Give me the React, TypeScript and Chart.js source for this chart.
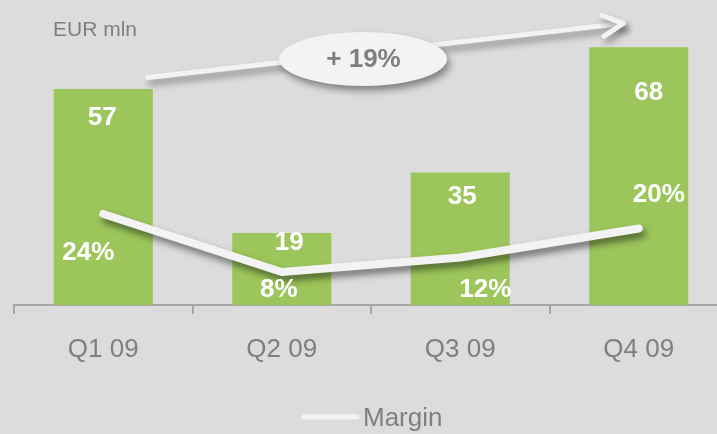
import { useEffect, useRef } from "react";
import { Chart, registerables } from "chart.js";

Chart.register(...registerables);

const categories = ["Q1 09", "Q2 09", "Q3 09", "Q4 09"];
const revenue = [57, 19, 35, 68];
const margin = [24, 8, 12, 20];
const marginLabels = ["24%", "8%", "12%", "20%"];
const growthLabel = "+ 19%";
const unitLabel = "EUR mln";
const legendLabel = "Margin";

// label placement offsets (px) relative to their bar top / line point
const valueLabelOffsets = [[-1, 29], [7.5, 9.5], [2, 24], [10, 45.5]];
const marginLabelOffsets = [[-15, 38.5], [-3, 18], [25, 32], [20, -33.5]];

const FONT = '"Liberation Sans", Arial, sans-serif';
const BG = "#dcdcdc";
const GREEN = "#9cc65b";
const WHITE = "#f3f3f3";
const GRAY = "#7f7f7f";
const AXIS = "#a6a6a6";

function setShadow(ctx: CanvasRenderingContext2D) {
  ctx.shadowColor = "rgba(0,0,0,0.5)";
  ctx.shadowBlur = 7;
  ctx.shadowOffsetX = 3;
  ctx.shadowOffsetY = 5;
}

const shadowPlugin = {
  id: "lineShadow",
  beforeDatasetDraw(chart: any, args: any) {
    if (args.index === 0) {
      chart.ctx.save();
      setShadow(chart.ctx);
    }
  },
  afterDatasetDraw(chart: any, args: any) {
    if (args.index === 0) chart.ctx.restore();
  },
};

const labelPlugin = {
  id: "valueLabels",
  afterDatasetsDraw(chart: any) {
    const ctx: CanvasRenderingContext2D = chart.ctx;
    const lineMeta = chart.getDatasetMeta(0);
    const barMeta = chart.getDatasetMeta(1);
    ctx.save();
    ctx.fillStyle = "#ffffff";
    ctx.font = `bold 26px ${FONT}`;
    ctx.textAlign = "center";
    ctx.textBaseline = "middle";
    barMeta.data.forEach((el: any, i: number) => {
      const [dx, dy] = valueLabelOffsets[i];
      ctx.fillText(String(revenue[i]), el.x + dx, el.y + dy);
    });
    lineMeta.data.forEach((el: any, i: number) => {
      const [dx, dy] = marginLabelOffsets[i];
      ctx.fillText(marginLabels[i], el.x + dx, el.y + dy);
    });
    ctx.restore();
  },
};

const annotationPlugin = {
  id: "annotations",
  afterDraw(chart: any) {
    const ctx: CanvasRenderingContext2D = chart.ctx;
    const area = chart.chartArea;
    const barMeta = chart.getDatasetMeta(1);
    const first = barMeta.data[0];
    const last = barMeta.data[barMeta.data.length - 1];
    const cx = (area.left + area.right) / 2;

    // growth arrow
    const x0 = first.x + 44.5;
    const y0 = first.y - 11.5;
    const x1 = last.x - 15.5;
    const y1 = last.y - 24;
    ctx.save();
    setShadow(ctx);
    ctx.shadowColor = "rgba(0,0,0,0.4)";
    ctx.strokeStyle = WHITE;
    ctx.lineWidth = 5;
    ctx.lineCap = "round";
    ctx.lineJoin = "round";
    ctx.beginPath();
    ctx.moveTo(x0, y0);
    ctx.lineTo(x1, y1);
    ctx.stroke();
    const ang = Math.atan2(y0 - y1, x0 - x1);
    const len = 23;
    const spread = (27 * Math.PI) / 180;
    ctx.beginPath();
    ctx.moveTo(x1 + Math.cos(ang + spread) * len, y1 + Math.sin(ang + spread) * len);
    ctx.lineTo(x1, y1);
    ctx.lineTo(x1 + Math.cos(ang - spread) * len, y1 + Math.sin(ang - spread) * len);
    ctx.stroke();

    // ellipse with growth label
    const ex = cx - 8;
    const ey = y0 + ((y1 - y0) * (ex - x0)) / (x1 - x0) + 6;
    ctx.fillStyle = WHITE;
    ctx.beginPath();
    ctx.ellipse(ex, ey, 84, 27, 0, 0, Math.PI * 2);
    ctx.fill();
    ctx.restore();

    ctx.save();
    ctx.fillStyle = GRAY;
    ctx.font = `bold 26px ${FONT}`;
    ctx.textAlign = "center";
    ctx.textBaseline = "middle";
    ctx.fillText(growthLabel, ex + 0.5, ey + 1);

    // unit label
    ctx.font = `21px ${FONT}`;
    ctx.textAlign = "left";
    ctx.fillText(unitLabel, area.left + 39, area.top + 30.5);

    // legend
    ctx.strokeStyle = WHITE;
    ctx.lineWidth = 5;
    ctx.lineCap = "round";
    ctx.beginPath();
    ctx.moveTo(cx - 67, 417);
    ctx.lineTo(cx - 14, 417);
    ctx.stroke();
    ctx.font = `26px ${FONT}`;
    ctx.fillText(legendLabel, cx - 8, 419);
    ctx.restore();
  },
};

export default function App() {
  const ref = useRef<HTMLCanvasElement | null>(null);

  useEffect(() => {
    document.body.style.margin = "0";
    document.body.style.background = BG;
    document.body.style.overflow = "hidden";
    document.documentElement.style.overflow = "hidden";
    const canvas = ref.current;
    if (!canvas) return;
    const chart = new Chart(canvas, {
      type: "bar",
      data: {
        labels: categories,
        datasets: [
          {
            type: "line",
            label: legendLabel,
            data: margin,
            yAxisID: "y2",
            borderColor: WHITE,
            backgroundColor: WHITE,
            borderWidth: 8,
            borderCapStyle: "round",
            borderJoinStyle: "round",
            pointRadius: 0,
            tension: 0,
            order: 0,
          } as any,
          {
            type: "bar",
            label: "Revenue",
            data: revenue,
            yAxisID: "y",
            backgroundColor: GREEN,
            borderWidth: 0,
            categoryPercentage: 1,
            barPercentage: 0.555,
            order: 1,
          } as any,
        ],
      },
      options: {
        responsive: false,
        animation: false,
        devicePixelRatio: 1,
        layout: { padding: { left: 14, right: 0, top: 0, bottom: 48.8 } },
        plugins: {
          legend: { display: false },
          tooltip: { enabled: false },
        },
        scales: {
          x: {
            offset: true,
            grid: {
              display: true,
              offset: true,
              drawOnChartArea: false,
              drawTicks: true,
              tickLength: 9,
              color: AXIS,
              lineWidth: 2,
            },
            border: { display: true, color: AXIS, width: 2 },
            ticks: {
              color: GRAY,
              font: { family: FONT, size: 26 },
              padding: 20,
              maxRotation: 0,
            },
          },
          y: { display: false, min: 0, max: 80.5 },
          y2: { display: false, min: -1.1, max: 83 },
        },
      },
      plugins: [shadowPlugin, labelPlugin, annotationPlugin],
    });
    return () => chart.destroy();
  }, []);

  return (
    <div style={{ width: 728, height: 434, background: BG, overflow: "hidden" }}>
      <canvas ref={ref} width={728} height={434} style={{ display: "block" }} />
    </div>
  );
}
